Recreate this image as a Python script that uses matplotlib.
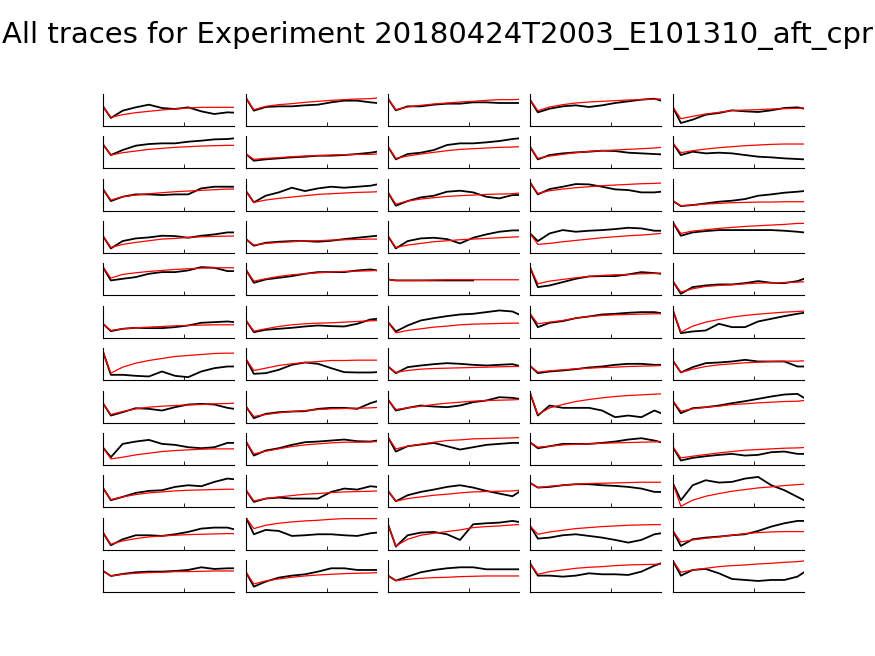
import numpy as np
import matplotlib.pyplot as plt

# ---------- Data ---------- #
# sample positions along each trace, percent of recording length
t = [0, 6, 15, 25, 35, 45, 55, 65, 75, 85, 95, 100]

# trace levels, arbitrary units (0 = axis bottom, 96 = axis top)
# one list per panel, rows top to bottom, five columns each
black = [
    [59, 24, 46, 56, 64, 54, 51, 56, 44, 36, 41, 40],
    [84, 46, 57, 59, 59, 62, 64, 71, 76, 76, 71, 69],
    [82, 47, 59, 59, 64, 67, 67, 71, 71, 69, 69, 69],
    [79, 41, 52, 59, 62, 57, 62, 69, 74, 79, 82, 76],
    [56, 9, 19, 34, 39, 47, 44, 42, 47, 54, 56, 52],

    [72, 40, 55, 68, 73, 75, 75, 80, 83, 87, 88, 90],
    [43, 23, 27, 30, 33, 35, 38, 38, 40, 43, 47, 50],
    [65, 27, 43, 47, 55, 70, 75, 75, 78, 82, 88, 90],
    [65, 27, 40, 45, 48, 50, 53, 52, 47, 45, 43, 42],
    [75, 40, 50, 45, 47, 45, 40, 35, 33, 30, 28, 27],

    [65, 29, 42, 49, 49, 47, 49, 49, 67, 72, 72, 72],
    [59, 25, 45, 55, 69, 59, 67, 72, 69, 72, 75, 79],
    [55, 15, 29, 40, 45, 57, 60, 55, 42, 37, 47, 47],
    [85, 49, 65, 72, 80, 79, 72, 64, 62, 55, 55, 57],
    [29, 14, 17, 22, 27, 30, 35, 45, 49, 54, 57, 59],

    [51, 14, 36, 44, 47, 52, 51, 46, 52, 56, 62, 62],
    [42, 22, 31, 34, 36, 36, 34, 37, 42, 46, 50, 52],
    [51, 14, 36, 44, 46, 42, 29, 46, 56, 64, 68, 68],
    [59, 36, 59, 69, 64, 67, 69, 72, 76, 74, 67, 67],
    [92, 52, 62, 66, 69, 69, 69, 69, 69, 67, 64, 62],

    [85, 45, 50, 55, 65, 70, 70, 75, 85, 83, 73, 73],
    [77, 38, 48, 53, 58, 65, 70, 70, 70, 75, 78, 75],
    [48, 45, 45, 45, 45, 45, 45, 45, np.nan, np.nan, np.nan, np.nan],
    [85, 25, 30, 40, 50, 57, 58, 58, 63, 70, 67, 65],
    [42, 5, 25, 30, 33, 33, 37, 43, 38, 37, 43, 50],

    [42, 20, 27, 30, 29, 29, 32, 37, 45, 47, 49, 47],
    [52, 17, 24, 27, 30, 34, 37, 35, 34, 42, 55, 57],
    [47, 19, 37, 52, 59, 65, 70, 72, 77, 82, 79, 70],
    [72, 32, 45, 50, 59, 64, 70, 72, 75, 77, 77, 74],
    [82, 14, 19, 22, 42, 32, 32, 49, 57, 65, 72, 75],

    [86, 16, 16, 13, 11, 26, 13, 9, 26, 36, 41, 41],
    [63, 19, 21, 31, 46, 53, 49, 36, 24, 23, 23, 24],
    [41, 21, 39, 44, 48, 51, 49, 46, 44, 46, 48, 43],
    [43, 21, 26, 29, 33, 38, 41, 46, 49, 49, 46, 46],
    [58, 23, 39, 51, 53, 56, 61, 56, 56, 56, 41, 41],

    [58, 21, 31, 43, 41, 36, 46, 54, 56, 54, 44, 41],
    [48, 13, 26, 31, 33, 34, 41, 44, 44, 41, 58, 64],
    [69, 36, 44, 51, 48, 46, 51, 61, 66, 76, 74, 71],
    [89, 21, 51, 44, 44, 44, 36, 16, 21, 16, 36, 28],
    [64, 28, 43, 46, 51, 58, 64, 71, 78, 84, 86, 74],

    [52, 23, 63, 70, 75, 63, 60, 53, 50, 53, 66, 66],
    [70, 28, 43, 50, 60, 68, 70, 73, 76, 71, 70, 73],
    [83, 40, 56, 61, 66, 56, 46, 53, 60, 63, 66, 66],
    [68, 50, 56, 63, 63, 63, 66, 70, 76, 80, 73, 68],
    [53, 13, 21, 26, 30, 33, 28, 30, 38, 40, 33, 33],

    [58, 21, 31, 43, 49, 51, 61, 66, 63, 76, 86, 84],
    [51, 16, 26, 29, 26, 26, 26, 46, 56, 53, 63, 61],
    [49, 18, 36, 46, 53, 61, 66, 59, 49, 41, 33, 46],
    [73, 59, 61, 66, 69, 69, 66, 64, 61, 56, 46, 46],
    [71, 21, 66, 81, 74, 76, 86, 91, 66, 51, 31, 21],

    [51, 13, 31, 43, 43, 41, 46, 53, 63, 66, 66, 61],
    [96, 46, 59, 56, 41, 43, 46, 46, 43, 41, 49, 51],
    [76, 9, 43, 51, 53, 46, 29, 76, 79, 81, 86, 83],
    [71, 33, 36, 43, 46, 41, 36, 29, 21, 29, 46, 49],
    [56, 11, 31, 36, 39, 43, 46, 56, 69, 79, 86, 86],

    [63, 48, 54, 59, 61, 61, 63, 66, 74, 69, 71, 71],
    [59, 16, 31, 43, 49, 53, 61, 71, 71, 66, 66, 66],
    [49, 34, 46, 59, 66, 71, 74, 74, 68, 68, 68, 68],
    [86, 49, 49, 46, 49, 56, 53, 53, 51, 61, 79, 86],
    [93, 49, 66, 69, 56, 39, 36, 33, 36, 36, 46, 59],
]

red = [
    [59, 26, 34, 40, 44, 48, 51, 54, 56, 56, 56, 56],
    [84, 49, 59, 64, 67, 71, 74, 77, 79, 81, 82, 84],
    [82, 49, 57, 62, 66, 69, 72, 74, 77, 79, 79, 80],
    [79, 46, 57, 64, 69, 72, 74, 76, 78, 79, 81, 81],
    [56, 22, 29, 36, 41, 46, 48, 49, 51, 52, 53, 54],

    [72, 40, 47, 52, 57, 60, 63, 65, 67, 68, 69, 69],
    [43, 27, 30, 32, 35, 37, 38, 40, 41, 42, 42, 43],
    [65, 30, 37, 43, 48, 53, 57, 59, 61, 63, 64, 65],
    [65, 30, 37, 42, 47, 51, 53, 55, 57, 59, 61, 63],
    [75, 47, 53, 58, 62, 65, 68, 70, 72, 73, 73, 73],

    [65, 32, 42, 47, 51, 54, 57, 59, 61, 63, 65, 65],
    [59, 25, 32, 37, 41, 45, 49, 51, 53, 55, 56, 57],
    [55, 20, 29, 35, 39, 43, 45, 47, 49, 50, 51, 53],
    [85, 52, 60, 65, 69, 72, 75, 77, 79, 81, 82, 83],
    [29, 15, 17, 20, 22, 24, 25, 26, 26, 27, 27, 27],

    [51, 17, 26, 32, 37, 42, 44, 47, 49, 50, 51, 51],
    [42, 24, 29, 32, 34, 36, 37, 39, 40, 41, 42, 42],
    [51, 17, 24, 29, 34, 37, 40, 42, 44, 46, 48, 49],
    [59, 26, 29, 34, 38, 42, 46, 49, 52, 54, 57, 59],
    [92, 59, 66, 70, 74, 77, 80, 82, 84, 86, 89, 89],

    [85, 52, 63, 68, 72, 75, 78, 80, 82, 83, 83, 83],
    [77, 43, 50, 57, 62, 65, 68, 70, 72, 73, 74, 75],
    [48, 45, 45, 45, 46, 47, 47, 47, 47, 47, 47, 47],
    [85, 35, 43, 48, 53, 57, 60, 62, 63, 65, 66, 67],
    [42, 10, 20, 27, 30, 32, 35, 37, 38, 39, 40, 41],

    [42, 22, 27, 30, 32, 34, 36, 37, 38, 39, 39, 39],
    [52, 20, 27, 34, 39, 42, 44, 45, 47, 49, 51, 52],
    [47, 15, 22, 27, 32, 35, 39, 41, 42, 43, 44, 44],
    [72, 42, 47, 52, 59, 64, 67, 69, 70, 71, 72, 72],
    [82, 17, 35, 47, 55, 62, 67, 71, 74, 77, 79, 80],

    [86, 21, 39, 51, 59, 65, 71, 74, 77, 80, 81, 81],
    [63, 29, 36, 44, 49, 53, 56, 59, 59, 60, 60, 60],
    [41, 23, 29, 33, 35, 36, 37, 38, 39, 40, 41, 41],
    [43, 24, 28, 31, 34, 36, 38, 39, 41, 42, 43, 44],
    [58, 23, 33, 41, 46, 49, 52, 54, 56, 57, 57, 58],

    [58, 24, 33, 41, 46, 49, 51, 53, 54, 56, 57, 58],
    [48, 18, 24, 29, 33, 36, 39, 41, 42, 43, 44, 45],
    [69, 39, 44, 49, 54, 58, 61, 64, 66, 67, 68, 69],
    [89, 24, 44, 54, 63, 69, 74, 78, 81, 83, 85, 86],
    [64, 34, 41, 46, 49, 54, 56, 59, 61, 63, 64, 66],

    [52, 18, 23, 30, 35, 40, 43, 45, 47, 48, 48, 48],
    [70, 33, 41, 48, 55, 60, 63, 66, 68, 68, 69, 70],
    [83, 48, 56, 62, 68, 73, 75, 78, 79, 80, 81, 82],
    [68, 53, 56, 60, 62, 63, 65, 66, 67, 68, 69, 70],
    [53, 21, 26, 31, 36, 40, 44, 46, 48, 50, 51, 52],

    [58, 23, 31, 38, 43, 46, 49, 51, 52, 53, 54, 54],
    [51, 19, 26, 31, 35, 39, 41, 44, 46, 47, 48, 49],
    [49, 18, 26, 31, 36, 39, 43, 46, 47, 48, 49, 51],
    [73, 59, 63, 66, 69, 71, 72, 73, 74, 75, 75, 75],
    [71, 3, 21, 33, 41, 48, 53, 58, 61, 65, 68, 69],

    [51, 16, 26, 33, 38, 41, 43, 45, 46, 47, 48, 48],
    [96, 63, 73, 79, 83, 86, 88, 91, 93, 93, 93, 93],
    [76, 11, 31, 43, 49, 54, 59, 66, 69, 71, 74, 75],
    [71, 46, 53, 58, 63, 66, 69, 71, 73, 74, 75, 75],
    [56, 23, 29, 34, 38, 43, 48, 51, 53, 54, 54, 54],

    [63, 48, 53, 56, 58, 59, 61, 61, 62, 63, 63, 63],
    [59, 24, 33, 39, 44, 48, 51, 53, 55, 56, 57, 58],
    [49, 34, 38, 41, 43, 44, 46, 47, 48, 48, 48, 48],
    [86, 53, 61, 66, 71, 74, 76, 79, 81, 82, 83, 84],
    [93, 59, 66, 71, 76, 79, 81, 84, 86, 89, 91, 93],
]

title = "All traces for Experiment 20180424T2003_E101310_aft_cpr"

# ---------- Layout ---------- #
W, H = 875, 656
n_rows, n_cols = 12, 5
col_left = [103, 246, 388, 530, 673]   # px
ax_w, ax_h = 131, 32                   # px
row_top0, row_step = 94, 42.36         # px

fig = plt.figure(figsize=(W / 100, H / 100), dpi=100)
fig.text(0.5, 1 - 35 / H, title, ha="center", va="center", fontsize=21)

for i in range(n_rows):
    for j in range(n_cols):
        k = i * n_cols + j
        top = row_top0 + i * row_step
        ax = fig.add_axes([col_left[j] / W, 1 - (top + ax_h) / H, ax_w / W, ax_h / H])
        ax.plot(t, black[k], color="black", lw=1.3)
        ax.plot(t, red[k], color="red", lw=0.9)
        ax.set_xlim(0, 100)
        ax.set_ylim(0, 96)
        ax.set_xticks([62])
        ax.set_xticklabels([])
        ax.set_yticks([])
        ax.tick_params(axis="x", direction="in", length=3, width=0.6)
        for s in ["top", "right"]:
            ax.spines[s].set_visible(False)
        for s in ["left", "bottom"]:
            ax.spines[s].set_linewidth(0.8)

fig.savefig("out.png", dpi=100)
